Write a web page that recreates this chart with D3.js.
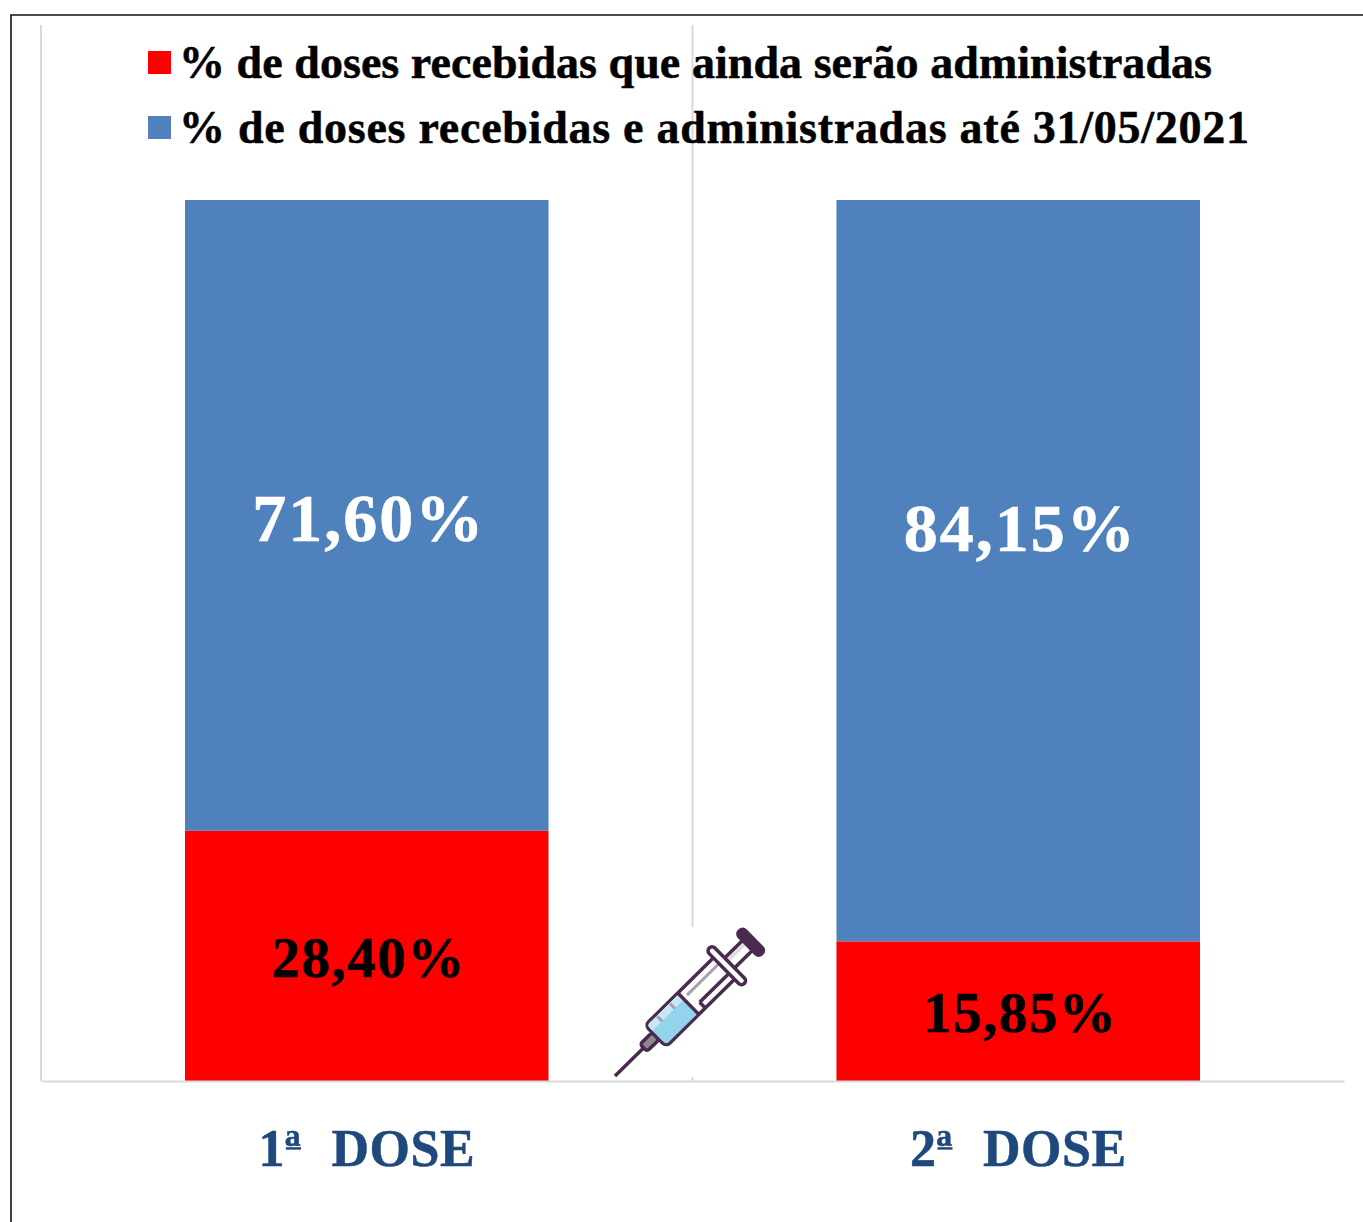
<!DOCTYPE html>
<html>
<head>
<meta charset="utf-8">
<script src="https://d3js.org/d3.v7.min.js"></script>
<style>
    html, body { margin: 0; padding: 0; background: #fff; }
    svg { display: block; }
    text { font-family: "Liberation Serif", serif; font-weight: bold; }
</style>
</head>
<body>
<svg width="1363" height="1222"></svg>
<script>
    const categories = ['1ª DOSE', '2ª DOSE'];
    const pending = [28.40, 15.85];
    const administered = [71.60, 84.15];
    const pendingLabels = ['28,40%', '15,85%'];
    const administeredLabels = ['71,60%', '84,15%'];
    const legendLabels = [
        '% de doses recebidas que ainda serão administradas',
        '% de doses recebidas e administradas até 31/05/2021'
    ];
    const RED = '#ff0000', BLUE = '#4f81bd', GRID = '#d9d9d9', NAVY = '#1f497d', INK = '#4a2a4e';

    const svg = d3.select('svg');

    // page frame, only the top and left edges show
    svg.append('path').attr('d', 'M11,1222V15H1363').attr('fill', 'none').attr('stroke', '#111').attr('stroke-width', 1.6);

    const x = d3.scaleBand().domain(categories).range([41, 1344]).paddingInner(0.442).paddingOuter(0.221);
    const y = d3.scaleLinear().domain([0, 100]).range([1081, 200]);
    const grid = d3.scaleLinear().domain([0, 2]).range([41, 1344]);

    svg.append('g').selectAll('line').data([0, 1]).enter().append('line')
        .attr('x1', d => grid(d)).attr('x2', d => grid(d))
        .attr('y1', 25).attr('y2', 1081)
        .attr('stroke', GRID).attr('stroke-width', 2);

    const stacked = categories.map((c, i) => ({ c, i, red: pending[i], blue: administered[i] }));

    svg.append('g').selectAll('rect.red').data(stacked).enter().append('rect')
        .attr('x', d => x(d.c)).attr('width', x.bandwidth())
        .attr('y', d => y(d.red)).attr('height', d => y(0) - y(d.red))
        .attr('fill', RED);

    svg.append('g').selectAll('rect.blue').data(stacked).enter().append('rect')
        .attr('x', d => x(d.c)).attr('width', x.bandwidth())
        .attr('y', d => y(d.red + d.blue)).attr('height', d => y(d.red) - y(d.red + d.blue))
        .attr('fill', BLUE);

    // axis with the category labels
    const axis = svg.append('g').attr('transform', 'translate(0,' + y(0) + ')')
        .call(d3.axisBottom(x).tickSize(0).tickPadding(48));
    axis.select('.domain').attr('stroke', GRID).attr('stroke-width', 2);
    axis.selectAll('text')
        .attr('fill', NAVY)
        .attr('stroke', NAVY).attr('stroke-width', 0.5)
        .style('font-family', '"Liberation Serif", serif')
        .style('font-size', '52px')
        .style('letter-spacing', '0.5px')
        .style('word-spacing', '17px');

    // the ordinal mark is underlined in the original
    axis.selectAll('text').each(function () {
        const box = this.getExtentOfChar(1);
        d3.select(this.parentNode).append('line')
            .attr('x1', box.x + 1).attr('x2', box.x + box.width)
            .attr('y1', box.y + box.height * 0.5).attr('y2', box.y + box.height * 0.5)
            .attr('stroke', NAVY).attr('stroke-width', 2.5);
    });

    // value labels, the 84,15% one sits above the middle of its bar in the original
    const blueNudge = [26, -20];
    svg.append('g').selectAll('text').data(stacked).enter().append('text')
        .attr('x', d => x(d.c) + x.bandwidth() / 2 + 2)
        .attr('y', d => y(d.red + d.blue / 2) + blueNudge[d.i])
        .attr('text-anchor', 'middle').attr('fill', '#fff').attr('stroke', '#fff').attr('stroke-width', 0.6)
        .attr('font-size', 68).style('letter-spacing', '2px')
        .text(d => administeredLabels[d.i]);

    svg.append('g').selectAll('text').data(stacked).enter().append('text')
        .attr('x', d => x(d.c) + x.bandwidth() / 2 + 2)
        .attr('y', d => y(d.red / 2) + 21)
        .attr('text-anchor', 'middle').attr('fill', '#000').attr('stroke', '#000').attr('stroke-width', 0.6)
        .attr('font-size', 57).style('letter-spacing', '1.5px')
        .text(d => pendingLabels[d.i]);

    // legend
    const legend = svg.append('g').selectAll('g').data(legendLabels).enter().append('g')
        .attr('transform', (d, i) => 'translate(148,' + (51 + i * 65) + ')');
    legend.append('rect').attr('width', 23).attr('height', 23).attr('fill', (d, i) => i == 0 ? RED : BLUE);
    legend.append('text').attr('x', 31).attr('y', 27)
        .attr('font-size', 46).attr('stroke', '#000').attr('stroke-width', 0.5)
        .attr('textLength', (d, i) => i == 0 ? 1033 : 1070)
        .attr('lengthAdjust', 'spacing')
        .text(d => d);

    // syringe icon, drawn along its own axis from the needle tip
    const icon = svg.append('g');
    icon.append('rect').attr('x', 606).attr('y', 927).attr('width', 170).attr('height', 150).attr('fill', '#fff');
    const s = icon.append('g').attr('transform', 'translate(615,1076) rotate(-44.6)')
        .attr('stroke', INK).attr('stroke-width', 3.5).attr('stroke-linejoin', 'round');
    s.append('line').attr('x1', 0).attr('y1', 0).attr('x2', 40).attr('y2', 0);
    s.append('rect').attr('x', 40).attr('y', -5).attr('width', 17).attr('height', 10).attr('rx', 3).attr('fill', '#8a8a8a');
    // plunger rod
    s.append('rect').attr('x', 157).attr('y', -7).attr('width', 30).attr('height', 14).attr('fill', '#fff');
    s.append('rect').attr('x', 162).attr('y', -5).attr('width', 22).attr('height', 4).attr('fill', '#ddd').attr('stroke', 'none');
    // barrel
    s.append('rect').attr('x', 57).attr('y', -15).attr('width', 100).attr('height', 30).attr('rx', 5).attr('fill', '#fff');
    s.append('path').attr('d', 'M102,-13.5H62a3.5,3.5 0 0 0 -3.5,3.5V10a3.5,3.5 0 0 0 3.5,3.5H102Z').attr('fill', '#93d3ec').attr('stroke', 'none');
    s.append('path').attr('d', 'M102,-13.5H62a3.5,3.5 0 0 0 -3.5,3.5V-6H102Z').attr('fill', '#c8e8f3').attr('stroke', 'none');
    s.append('line').attr('x1', 103).attr('y1', -15).attr('x2', 103).attr('y2', 15);
    s.append('line').attr('x1', 108).attr('y1', -7).attr('x2', 157).attr('y2', -7).attr('stroke', '#a99fb0').attr('stroke-width', 3);
    s.append('line').attr('x1', 112).attr('y1', 7).attr('x2', 157).attr('y2', 7).attr('stroke', INK);
    s.append('line').attr('x1', 112).attr('y1', 7).attr('x2', 112).attr('y2', 15);
    s.selectAll('line.tick').data([72, 90]).enter().append('line').attr('class', 'tick')
        .attr('x1', d => d).attr('x2', d => d).attr('y1', -13).attr('y2', -6)
        .attr('stroke', '#a99fb0').attr('stroke-width', 3);
    // flange and thumb cap
    s.append('rect').attr('x', 153).attr('y', -25).attr('width', 8).attr('height', 50).attr('rx', 4).attr('fill', '#fff');
    s.append('rect').attr('x', 186).attr('y', -16).attr('width', 9).attr('height', 32).attr('rx', 4).attr('fill', INK);
</script>
</body>
</html>
